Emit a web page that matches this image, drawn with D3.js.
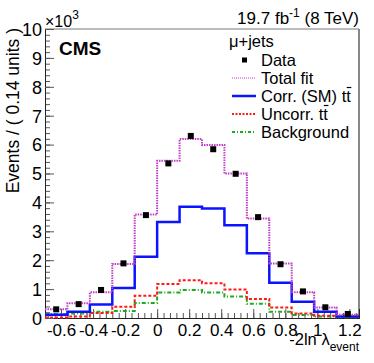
<!DOCTYPE html>
<html>
<head>
<meta charset="utf-8">
<script src="https://cdn.jsdelivr.net/npm/d3@7"></script>
<style>
  body { margin: 0; background: #fff; }
  svg { display: block; font-family: "Liberation Sans", Arial, sans-serif; }
</style>
</head>
<body>
<div class="svg-container"></div>
<script>
// bin edges of -2ln lambda, width 0.14
var binEdges = [-0.70, -0.56, -0.42, -0.28, -0.14, 0.00, 0.14, 0.28, 0.42, 0.56, 0.70, 0.84, 0.98, 1.12, 1.26];

// events per bin
var dataCounts = [300, 480, 970, 1890, 3560, 5350, 6300, 5840, 4990, 3490, 1860, 920, 370, 140];
var totalFit   = [300, 510, 890, 1870, 3580, 5440, 6190, 5990, 5000, 3440, 1890, 890, 360, 110];
var corrSM     = [110, 220, 470, 1040, 2120, 3320, 3850, 3790, 3210, 2240, 1220, 560, 220, 50];
var uncorr     = [20, 50, 170, 390, 770, 1180, 1310, 1200, 990, 660, 360, 160, 80, 40];
var background = [130, 160, 220, 240, 520, 880, 970, 880, 740, 490, 220, 100, 50, 30];

var xTicks = [-0.6, -0.4, -0.2, 0, 0.2, 0.4, 0.6, 0.8, 1, 1.2];
var yTicks = [0, 1000, 2000, 3000, 4000, 5000, 6000, 7000, 8000, 9000, 10000];

var W = 374, H = 363;
var svg = d3.select(".svg-container").append("svg")
    .attr("width", W).attr("height", H);

var x = d3.scaleLinear().domain([-0.7, 1.26]).range([45, 359]);
var y = d3.scaleLinear().domain([0, 10000]).range([318, 29]);

// frame
svg.append("line").attr("x1", 45).attr("x2", 359).attr("y1", 29).attr("y2", 29)
    .attr("stroke", "#777").attr("stroke-width", 1);
svg.append("line").attr("x1", 359).attr("x2", 359).attr("y1", 29).attr("y2", 318)
    .attr("stroke", "#888").attr("stroke-width", 2);

// minor ticks
var xMinor = d3.range(-0.68, 1.2601, 0.04);
var yMinor = d3.range(0, 10001, 200);

var xAxis = d3.axisBottom(x).tickValues(xTicks).tickSize(-9).tickPadding(0)
    .tickFormat(function(d) { return String(Math.round(d * 10) / 10); });
var xAxisMinor = d3.axisBottom(x).tickValues(xMinor).tickSize(-5).tickFormat("");
var yAxis = d3.axisLeft(y).tickValues(yTicks).tickSize(-9).tickPadding(0)
    .tickFormat(function(d) { return d / 1000; });
var yAxisMinor = d3.axisLeft(y).tickValues(yMinor).tickSize(-5).tickFormat("");

function styleAxis(g) {
    g.select(".domain").attr("stroke", "#222");
    g.selectAll(".tick line").attr("stroke", "#555");
}

svg.append("g").attr("transform", "translate(0,318)").call(xAxisMinor).call(styleAxis);
var gx = svg.append("g").attr("transform", "translate(0,318)").call(xAxis).call(styleAxis);
gx.selectAll("text").attr("font-size", 17).attr("fill", "#000").attr("y", 0).attr("dy", 0)
    .attr("transform", "translate(0,17.5)");

svg.append("g").attr("transform", "translate(45,0)").call(yAxisMinor).call(styleAxis);
var gy = svg.append("g").attr("transform", "translate(45,0)").call(yAxis).call(styleAxis);
gy.selectAll("text").attr("font-size", 18).attr("fill", "#000").attr("x", -3).attr("dy", "0.35em");

// step histograms
function stepPoints(vals) {
    var pts = vals.map(function(v, i) { return [binEdges[i], v]; });
    pts.push([binEdges[binEdges.length - 1], vals[vals.length - 1]]);
    return pts;
}
var step = d3.line().curve(d3.curveStepAfter)
    .x(function(d) { return x(d[0]); })
    .y(function(d) { return y(d[1]); });

var series = [
    { vals: background, color: "#1faa1f", width: 2, dash: "4,2,1,2" },
    { vals: uncorr, color: "#ff1a1a", width: 2, dash: "3,2" },
    { vals: corrSM, color: "#0a14ff", width: 2.5, dash: null },
    { vals: totalFit, color: "#c23fc9", width: 2, dash: "1.5,1" }
];
series.forEach(function(s) {
    svg.append("path").datum(stepPoints(s.vals))
        .attr("d", step).attr("fill", "none")
        .attr("stroke", s.color).attr("stroke-width", s.width)
        .attr("stroke-dasharray", s.dash);
});

// data points
var centers = dataCounts.map(function(d, i) { return (binEdges[i] + binEdges[i + 1]) / 2; });
svg.selectAll("rect.data").data(dataCounts).enter().append("rect")
    .attr("class", "data")
    .attr("x", function(d, i) { return x(centers[i]) - 3; })
    .attr("y", function(d) { return y(d) - 3; })
    .attr("width", 6).attr("height", 6).attr("fill", "#000");

// texts
svg.append("text").attr("x", 59).attr("y", 55).attr("font-size", 19)
    .attr("font-weight", "bold").text("CMS");

var lumi = svg.append("text").attr("x", 359).attr("y", 24).attr("font-size", 17)
    .attr("text-anchor", "end");
lumi.append("tspan").text("19.7 fb");
lumi.append("tspan").attr("font-size", 12).attr("dy", -7).text("-1");
lumi.append("tspan").attr("dy", 7).text(" (8 TeV)");

var exp = svg.append("text").attr("x", 45).attr("y", 27).attr("font-size", 16);
exp.append("tspan").text("\u00d710");
exp.append("tspan").attr("font-size", 12).attr("dy", -8).text("3");

svg.append("text").attr("transform", "translate(19,28) rotate(-90)")
    .attr("text-anchor", "end").attr("font-size", 17.5)
    .text("Events / ( 0.14 units )");

var xt = svg.append("text").attr("x", 359).attr("y", 345).attr("font-size", 16.5)
    .attr("text-anchor", "end");
xt.append("tspan").text("-2ln \u03bb");
xt.append("tspan").attr("font-size", 12).attr("dy", 6).text("event");

// legend
var legX = 232, legY0 = 60, legDy = 18;
svg.append("text").attr("x", 229).attr("y", 47).attr("font-size", 16.5).text("\u03bc+jets");

var legItems = [
    { label: "Data", marker: true },
    { label: "Total fit", color: "#c23fc9", width: 1.2, dash: "1,1" },
    { label: "Corr. (SM) tt", color: "#0a14ff", width: 2.5, dash: null, bar: true },
    { label: "Uncorr. tt", color: "#ff1a1a", width: 2, dash: "2,1.5", bar: true },
    { label: "Background", color: "#1faa1f", width: 2, dash: "3,2,1,2" }
];
legItems.forEach(function(it, i) {
    var cy = legY0 + i * legDy;
    if (it.marker) {
        svg.append("rect").attr("x", 242).attr("y", cy - 2.5).attr("width", 5).attr("height", 5).attr("fill", "#000");
    } else {
        svg.append("line").attr("x1", legX).attr("x2", 256).attr("y1", cy).attr("y2", cy)
            .attr("stroke", it.color).attr("stroke-width", it.width).attr("stroke-dasharray", it.dash);
    }
    var t = svg.append("text").attr("x", 261).attr("y", cy + 6).attr("font-size", 16.5).text(it.label);
    if (it.bar) {
        // anti-top bar over the last "t"
        var n = it.label.length - 1;
        var x0 = t.node().getStartPositionOfChar(n).x;
        var x1 = t.node().getEndPositionOfChar(n).x;
        svg.append("line").attr("x1", x0 + 0.5).attr("x2", x1 + 0.5)
            .attr("y1", cy - 8.5).attr("y2", cy - 8.5)
            .attr("stroke", "#000").attr("stroke-width", 1.2);
    }
});
</script>
</body>
</html>
